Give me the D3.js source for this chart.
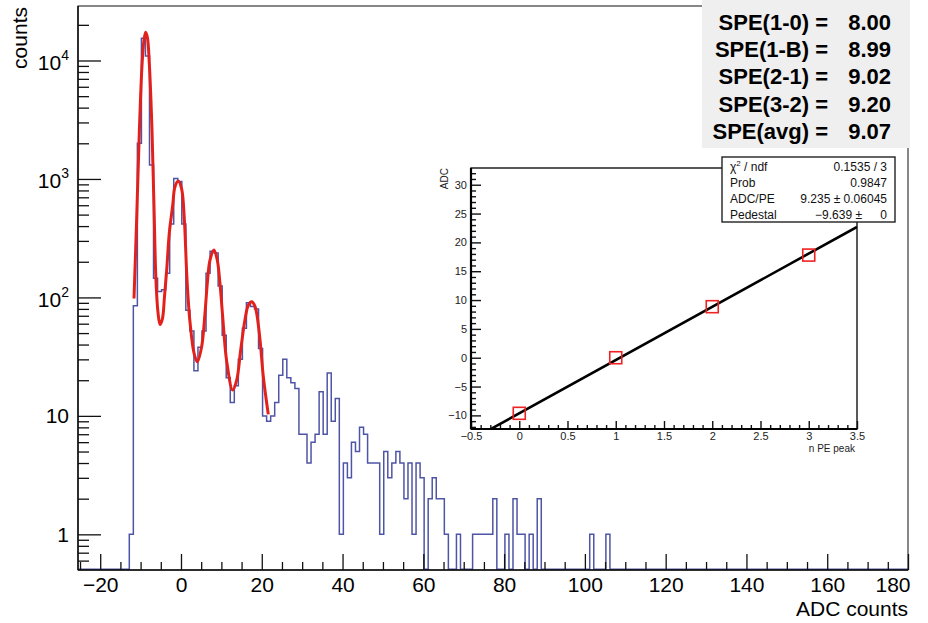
<!DOCTYPE html>
<html><head><meta charset="utf-8">
<script src="https://cdn.jsdelivr.net/npm/d3@7"></script>
<style>
body{margin:0;background:#fff}
svg{display:block}
text{font-family:"Liberation Sans",Arial,Helvetica,sans-serif}
</style>
</head><body>
<svg id="c" width="928" height="623"></svg>
<script>
// ---------------- data ----------------
const binStart = -12.8;   // lower edge of first filled bin (ADC)
const binWidth = 1;
const counts = [
  1, 85, 2000, 15400, 10900, 1310, 145, 112, 116, 160,
  417, 1010, 950, 417, 78, 52, 24, 38, 52, 160,
  245, 237, 125, 48, 21, 13, 18, 30, 55, 90,
  84, 80, 37, 10, 9, 10, 13, 22, 30, 21,
  19, 17, 7, 7, 4, 6, 7, 16, 7, 23,
  9, 14, 1, 4, 3, 6, 5, 8, 7, 4,
  4, 4, 1, 5, 3, 4, 5, 4, 2, 4,
  1, 4, 3, 0, 2, 3, 2, 2, 1, 0,
  0, 1, 0, 0, 0, 1, 1, 1, 1, 1,
  2, 0, 0, 1, 0, 2, 1, 1, 0, 1,
  0, 2, 0, 0, 0, 0, 0, 0, 0, 0,
  0, 0, 0, 0, 1, 0, 0, 0, 1
];
const fitADC = [-11.64,-11.0,-10.3,-9.66,-9.2,-8.75,-8.3,-7.85,-7.18,-6.7,-6.2,-5.7,-5.2,-4.6,-4.1,-3.54,-2.9,-2.05,-1.49,-0.67,0.17,0.82,1.41,1.8,2.23,3.22,4.04,5.12,5.94,6.51,7.18,8.17,8.99,9.66,10.32,11.31,12.8,13.79,14.78,15.85,16.66,17.5,18.32,19.39,20.38,21.61];
const fitCounts = [98,430,2600,9000,14500,17300,15500,9500,2600,620,140,75,59,66,100,170,348,600,860,960,820,460,160,95,62,34,28.6,38.5,73.5,131,206,251,206,130,69,29,16.5,20,36,65,86,92,84,50,21.5,10.3];

const xTickLabels = [-20,0,20,40,60,80,100,120,140,160,180];
const yTickValues = [1,10,100,1000,10000];

const speLabels = ["SPE(1-0) =","SPE(1-B) =","SPE(2-1) =","SPE(3-2) =","SPE(avg) ="];
const speValues = ["8.00","8.99","9.02","9.20","9.07"];

const peakN = [0,1,2,3];
const peakADC = [-9.64,0.0,8.85,17.8];
const fitLineN = [-0.5,3.5];
const fitLineADC = [-14.26,22.68];
const insetXTicks = [-0.5,0,0.5,1,1.5,2,2.5,3,3.5];
const insetYTicks = [-10,-5,0,5,10,15,20,25,30];
const statNames = ["χ","Prob","ADC/PE","Pedestal"];
const statValues = ["0.1535 / 3","0.9847","9.235 ± 0.06045","0"];
const statValueExtra = ["","","","−9.639 ±"];

// ---------------- main plot ----------------
const svg = d3.select("#c");
const M = {l:78, r:908, t:6, b:570};
const x = d3.scaleLinear().domain([-25.5,180]).range([M.l,M.r]);
const y = d3.scaleLog().domain([0.5,28840]).range([M.b,M.t]);

svg.append("clipPath").attr("id","clipMain").append("rect")
  .attr("x",M.l).attr("y",M.t).attr("width",M.r-M.l).attr("height",M.b-M.t);

// histogram outline
const pts = [[x.domain()[0],0]];
counts.forEach((c,i)=>pts.push([binStart+i*binWidth,c]));
pts.push([binStart+counts.length*binWidth,0]);
pts.push([x.domain()[1],0]);
const histLine = d3.line()
  .x(d=>x(d[0]))
  .y(d=>d[1]>0 ? y(d[1]) : M.b-0.7)
  .curve(d3.curveStepAfter);
svg.append("path").attr("d",histLine(pts)).attr("clip-path","url(#clipMain)")
  .attr("fill","none").attr("stroke","#4f55a6").attr("stroke-width",1.5);

// fit curve
const fitLine = d3.line().x((d,i)=>x(fitADC[i])).y((d,i)=>y(fitCounts[i]))
  .curve(d3.curveCatmullRom.alpha(0.5));
svg.append("path").attr("d",fitLine(fitADC)).attr("clip-path","url(#clipMain)")
  .attr("fill","none").attr("stroke","#e3211c").attr("stroke-width",3).attr("stroke-linejoin","round");

// frame
svg.append("rect").attr("x",M.l).attr("y",M.t).attr("width",M.r-M.l).attr("height",M.b-M.t)
  .attr("fill","none").attr("stroke","#111").attr("stroke-width",1);
svg.append("line").attr("x1",M.l).attr("x2",M.r).attr("y1",M.b).attr("y2",M.b).attr("stroke","#111").attr("stroke-width",1.5);
svg.append("line").attr("x1",M.l).attr("x2",M.l).attr("y1",M.t).attr("y2",M.b).attr("stroke","#111").attr("stroke-width",1.5);

// x axis
const gxMinor = svg.append("g").attr("transform",`translate(0,${M.b})`)
  .call(d3.axisBottom(x).tickValues(d3.range(-25,181,5).filter(v=>v%20!==0)).tickSize(-8).tickFormat(""));
const gx = svg.append("g").attr("transform",`translate(0,${M.b})`)
  .call(d3.axisBottom(x).tickValues(xTickLabels).tickSize(-16).tickPadding(7).tickFormat(d3.format("d")));
[gx,gxMinor].forEach(g=>{g.select(".domain").remove(); g.selectAll(".tick line").attr("stroke","#111").attr("stroke-width",1.3);});
gx.selectAll(".tick text").attr("font-size",21).attr("fill","#000")
  .attr("font-family","Liberation Sans, Arial, sans-serif");
gx.selectAll(".tick text").filter(d=>d===180).attr("text-anchor","end").attr("dx",2);

// y axis
const yMinorVals = [];
[0.1,1,10,100,1000,10000].forEach(dec=>{ for(let k=2;k<=9;k++){ const v=k*dec; if(v>0.5 && v<28840) yMinorVals.push(v);} });
const gyMinor = svg.append("g").attr("transform",`translate(${M.l},0)`)
  .call(d3.axisLeft(y).tickValues(yMinorVals).tickSize(-11).tickFormat(""));
const gy = svg.append("g").attr("transform",`translate(${M.l},0)`)
  .call(d3.axisLeft(y).tickValues(yTickValues).tickSize(-23).tickFormat(""));
[gy,gyMinor].forEach(g=>{g.select(".domain").remove(); g.selectAll(".tick line").attr("stroke","#111").attr("stroke-width",1.3);});
yTickValues.forEach(v=>{
  const e = Math.round(Math.log10(v));
  const t = svg.append("text").attr("x",M.l-9).attr("y",y(v)).attr("text-anchor","end")
    .attr("font-size",21).attr("fill","#000");
  if(e>=2){
    t.attr("dy","0.45em");
    t.append("tspan").text("10");
    t.append("tspan").attr("font-size",14).attr("dy",-10).text(String(e));
  } else {
    t.attr("dy","0.35em").text(String(v));
  }
});

// axis titles
svg.append("text").attr("x",M.r).attr("y",616).attr("text-anchor","end")
  .attr("font-size",21).attr("fill","#000").text("ADC counts");
svg.append("text").attr("transform","translate(27,7) rotate(-90)").attr("text-anchor","end")
  .attr("font-size",21).attr("fill","#000").text("counts");

// SPE box
svg.append("rect").attr("x",702).attr("y",0).attr("width",208).attr("height",148).attr("fill","#efefef");
speLabels.forEach((s,i)=>{
  const by = 29.5 + i*27.45;
  svg.append("text").attr("x",828).attr("y",by).attr("text-anchor","end")
    .attr("font-size",22).attr("font-weight","bold").attr("fill","#000").text(s);
  svg.append("text").attr("x",891).attr("y",by).attr("text-anchor","end")
    .attr("font-size",22).attr("font-weight","bold").attr("fill","#000").text(speValues[i]);
});

// ---------------- inset ----------------
const I = {l:471, r:857, t:168, b:429};
const ix = d3.scaleLinear().domain([-0.5,3.5]).range([I.l,I.r]);
const iy = d3.scaleLinear().domain([-12.36,32.9]).range([I.b,I.t]);
svg.append("clipPath").attr("id","clipInset").append("rect")
  .attr("x",I.l).attr("y",I.t).attr("width",I.r-I.l).attr("height",I.b-I.t);

svg.append("rect").attr("x",I.l).attr("y",I.t).attr("width",I.r-I.l).attr("height",I.b-I.t)
  .attr("fill","none").attr("stroke","#222").attr("stroke-width",1.5);

// fit line
svg.append("path").attr("clip-path","url(#clipInset)")
  .attr("d",d3.line().x((d,i)=>ix(fitLineN[i])).y((d,i)=>iy(fitLineADC[i]))(fitLineN))
  .attr("stroke","#000").attr("stroke-width",2.6).attr("fill","none");

// markers
svg.selectAll(".pk").data(peakN).enter().append("rect")
  .attr("x",(d,i)=>ix(d)-6).attr("y",(d,i)=>iy(peakADC[i])-6).attr("width",12).attr("height",12)
  .attr("fill","none").attr("stroke","#ee2222").attr("stroke-width",1.6);

// inset axes
const igxMinor = svg.append("g").attr("transform",`translate(0,${I.b})`)
  .call(d3.axisBottom(ix).tickValues(d3.range(-5,36,1).map(v=>v/10).filter(v=>Math.abs(v*2-Math.round(v*2))>1e-6)).tickSize(-4).tickFormat(""));
const igx = svg.append("g").attr("transform",`translate(0,${I.b})`)
  .call(d3.axisBottom(ix).tickValues(insetXTicks).tickSize(-8).tickPadding(3).tickFormat(d=>d3.format("")(d)));
const igyMinor = svg.append("g").attr("transform",`translate(${I.l},0)`)
  .call(d3.axisLeft(iy).tickValues(d3.range(-12,33,1).filter(v=>v%5!==0)).tickSize(-5).tickFormat(""));
const igy = svg.append("g").attr("transform",`translate(${I.l},0)`)
  .call(d3.axisLeft(iy).tickValues(insetYTicks).tickSize(-10).tickPadding(4).tickFormat(d=>d3.format("")(d)));
[igx,igxMinor,igy,igyMinor].forEach(g=>{g.select(".domain").remove(); g.selectAll(".tick line").attr("stroke","#111").attr("stroke-width",1.4);});
[igx,igy].forEach(g=>g.selectAll(".tick text").attr("font-size",11).attr("fill","#222")
  .attr("font-family","Liberation Sans, Arial, sans-serif"));
svg.append("line").attr("x1",I.l).attr("x2",I.r).attr("y1",I.b).attr("y2",I.b).attr("stroke","#000").attr("stroke-width",2.2);
svg.append("line").attr("x1",I.l).attr("x2",I.l).attr("y1",I.t).attr("y2",I.b).attr("stroke","#000").attr("stroke-width",2.2);

svg.append("text").attr("transform",`translate(448,${I.t}) rotate(-90)`).attr("text-anchor","end")
  .attr("font-size",10).attr("fill","#222").text("ADC");
svg.append("text").attr("x",I.r-2).attr("y",452).attr("text-anchor","end")
  .attr("font-size",10).attr("fill","#222").text("n PE peak");

// fit stats box
svg.append("rect").attr("x",722).attr("y",157).attr("width",173).attr("height",65)
  .attr("fill","#fff").attr("stroke","#222").attr("stroke-width",1.4);
statNames.forEach((s,i)=>{
  const by = 171 + i*16;
  const t = svg.append("text").attr("x",730).attr("y",by).attr("font-size",12).attr("fill","#111");
  if(i===0){
    t.append("tspan").text("χ");
    t.append("tspan").attr("font-size",8).attr("dy",-5).text("2");
    t.append("tspan").attr("dy",5).text(" / ndf");
  } else t.text(s);
  svg.append("text").attr("x",887).attr("y",by).attr("text-anchor","end")
    .attr("font-size",12).attr("fill","#111").text(statValues[i]);
  if(statValueExtra[i]) svg.append("text").attr("x",862).attr("y",by).attr("text-anchor","end")
    .attr("font-size",12).attr("fill","#111").text(statValueExtra[i]);
});
</script>
</body></html>
